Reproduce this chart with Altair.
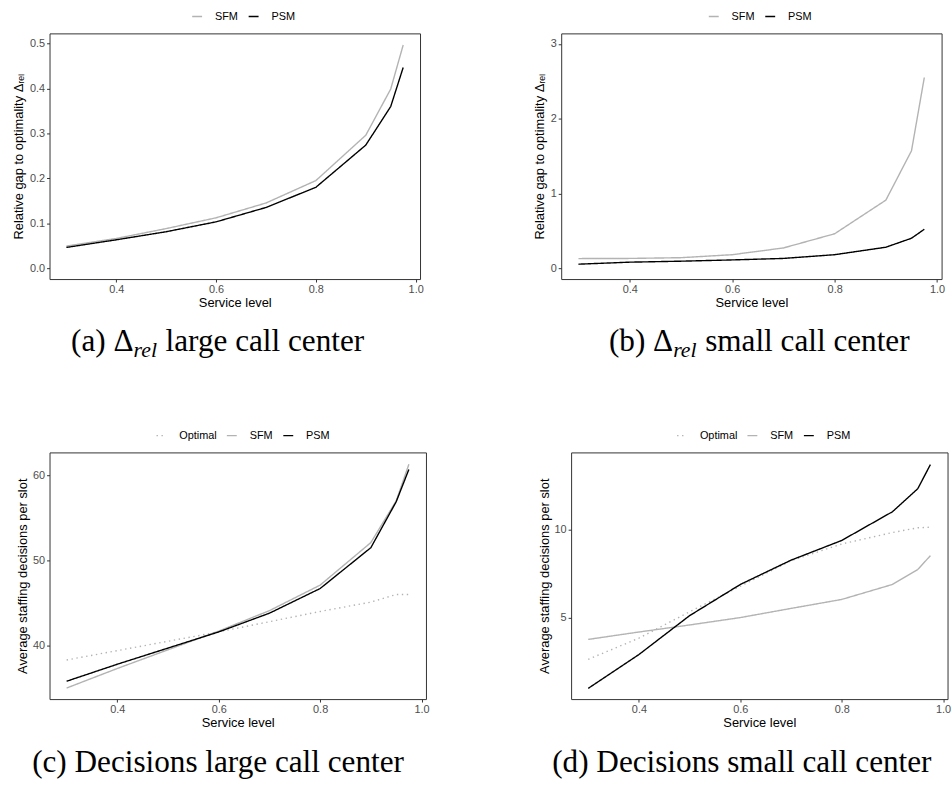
import altair as alt
import pandas as pd

# ---------------- data ----------------
service_level = [0.3, 0.4, 0.5, 0.6, 0.7, 0.8, 0.9, 0.95, 0.975]

a_sfm = [0.049, 0.066, 0.088, 0.112, 0.145, 0.195, 0.296, 0.399, 0.497]
a_psm = [0.046, 0.063, 0.081, 0.103, 0.135, 0.180, 0.274, 0.360, 0.447]

b_sfm = [0.128, 0.130, 0.140, 0.180, 0.270, 0.460, 0.910, 1.570, 2.550]
b_psm = [0.053, 0.080, 0.093, 0.110, 0.130, 0.180, 0.280, 0.400, 0.520]

c_opt = [38.3, 39.4, 40.5, 41.6, 42.8, 44.0, 45.1, 46.0, 46.0]
c_sfm = [35.0, 37.3, 39.5, 41.7, 44.1, 47.1, 52.1, 57.0, 61.3]
c_psm = [35.8, 37.8, 39.7, 41.6, 43.8, 46.7, 51.5, 56.9, 60.7]

d_opt = [2.65, 3.85, 5.35, 6.8, 8.25, 9.2, 9.85, 10.12, 10.15]
d_sfm = [3.78, 4.20, 4.60, 5.02, 5.54, 6.05, 6.90, 7.75, 8.54]
d_psm = [1.00, 2.92, 5.13, 6.90, 8.28, 9.40, 11.03, 12.34, 13.71]

x_ticks = [0.4, 0.6, 0.8, 1.0]
a_ticks = [0.0, 0.1, 0.2, 0.3, 0.4, 0.5]
b_ticks = [0, 1, 2, 3]
c_ticks = [40, 50, 60]
d_ticks = [5, 10]

gap_title = "Relative gap to optimality Δᵣₑₗ"
dec_title = "Average staffing decisions per slot"
x_title = "Service level"

SANS = "Liberation Sans"
SERIF = "Liberation Serif"

COLORS = {"Optimal": "#b3b3b3", "SFM": "#b3b3b3", "PSM": "#000000"}
DASHES = {"Optimal": [1.4, 3.6], "SFM": [1, 0], "PSM": [1, 0]}

X_DOMAIN = [0.26625, 1.00875]

# Times / Liberation Serif advance widths (per 1000 em) for caption layout
TW = {"(": 333, ")": 333, " ": 250, "a": 444, "b": 500, "c": 444, "d": 500,
      "e": 444, "g": 500, "l": 278, "m": 778, "n": 500, "r": 333, "s": 389,
      "t": 278, "Δ": 612, "D": 722, "i": 278, "o": 500}
TWI = {"r": 389, "e": 444, "l": 278}


def tw(s, size, italic=False):
    tab = TWI if italic else TW
    return sum(tab.get(ch, 500) for ch in s) * size / 1000.0


def txt(t, x, y, size, italic=False):
    return alt.Chart(pd.DataFrame({"t": [t]})).mark_text(
        align="left", baseline="alphabetic", font=SERIF, fontSize=size,
        fontStyle="italic" if italic else "normal", color="black"
    ).encode(text="t:N", x=alt.value(x), y=alt.value(y))


def anchor(x):
    # invisible layout anchor fixing the panel's left extent
    return alt.Chart(pd.DataFrame({"t": [0]})).mark_rule(strokeOpacity=0, color="white").encode(
        x=alt.value(x), x2=alt.value(x), y=alt.value(0), y2=alt.value(1))


CAP = 31.5
SUB = 22
GAP_BEFORE = 1
GAP_AFTER = 0


def caption_rel(prefix, rest, cx, y):
    w1 = tw(prefix, CAP)
    w2 = tw("rel", SUB, True)
    w3 = tw(" ", CAP)
    w4 = tw(rest, CAP)
    x0 = cx - (w1 + w2 + w3 + w4 + GAP_BEFORE + GAP_AFTER) / 2
    return [txt(prefix, x0, y, CAP),
            txt("rel", x0 + w1 + GAP_BEFORE, y + 6, SUB, italic=True),
            txt(rest, x0 + w1 + w2 + w3 + GAP_BEFORE + GAP_AFTER, y, CAP)]


def caption_plain(text, cx, y):
    return [txt(text, cx - tw(text, CAP) / 2, y, CAP)]


def panel(series, ydom, yticks, yfmt, ytitle, w, h, lx, ly, ytp, captions, left):
    rows = []
    for name, vals in series:
        for xv, yv in zip(service_level, vals):
            rows.append({"sl": xv, "v": yv, "s": name})
    df = pd.DataFrame(rows)
    order = [n for n, _ in series]
    legend = alt.Legend(orient="none", legendX=lx, legendY=ly, direction="horizontal",
                        title=None, symbolType="stroke", symbolSize=100,
                        symbolStrokeWidth=1.4, labelFontSize=11, labelFont=SANS,
                        labelColor="black", columnPadding=7, labelOffset=12, padding=0)
    lines = alt.Chart(df).mark_line(strokeWidth=1.4).encode(
        x=alt.X("sl:Q", scale=alt.Scale(domain=X_DOMAIN, nice=False, zero=False),
                axis=alt.Axis(values=x_ticks, format=".1f", title=x_title)),
        y=alt.Y("v:Q", scale=alt.Scale(domain=ydom, nice=False, zero=False),
                axis=alt.Axis(values=yticks, format=yfmt, title=ytitle, titlePadding=ytp)),
        color=alt.Color("s:N", scale=alt.Scale(domain=order, range=[COLORS[n] for n in order]),
                        legend=legend),
        strokeDash=alt.StrokeDash("s:N", scale=alt.Scale(domain=order, range=[DASHES[n] for n in order]),
                                  legend=legend),
    )
    return alt.layer(lines, anchor(left), *captions).properties(width=w, height=h)


pa = panel([("SFM", a_sfm), ("PSM", a_psm)], [-0.0245, 0.523], a_ticks, ".1f", gap_title,
           374, 248, 143, -23, 4, caption_rel("(a) Δ", "large call center", 170, 321), -40)
pb = panel([("SFM", b_sfm), ("PSM", b_psm)], [-0.146, 3.14], b_ticks, "d", gap_title,
           384, 248, 148, -23, 4, caption_rel("(b) Δ", "small call center", 200, 321), -30)
pc = panel([("Optimal", c_opt), ("SFM", c_sfm), ("PSM", c_psm)], [33.7, 62.7], c_ticks, "d", dec_title,
           380, 249, 107, -23, 3, caption_plain("(c) Decisions large call center", 170.5, 323), -34)
pd_ = panel([("Optimal", d_opt), ("SFM", d_sfm), ("PSM", d_psm)], [0.39, 14.4], d_ticks, "d", dec_title,
            380, 249, 106, -23, 3, caption_plain("(d) Decisions small call center", 172.5, 323), -34)

row1 = alt.hconcat(pa, pb, spacing=107.5).resolve_scale(
    color="independent", strokeDash="independent")
row2 = alt.hconcat(pc, pd_, spacing=107.5).resolve_scale(
    color="independent", strokeDash="independent")

chart = alt.vconcat(row1, row2, spacing=67).resolve_scale(
    color="independent", strokeDash="independent"
).properties(
    padding={"left": 9, "top": 6, "right": 0, "bottom": 0}
).configure_view(
    stroke="#333333", strokeWidth=1
).configure_axis(
    domain=False, grid=False, tickColor="#333333", tickSize=3, tickWidth=1,
    labelColor="#4d4d4d", labelFont=SANS, labelFontSize=11, labelPadding=2,
    titleFont=SANS, titleFontSize=13, titleFontWeight="normal", titleColor="black"
).configure_axisX(titlePadding=2)

chart.save("out.html", embed_options={"renderer": "svg", "actions": False})
